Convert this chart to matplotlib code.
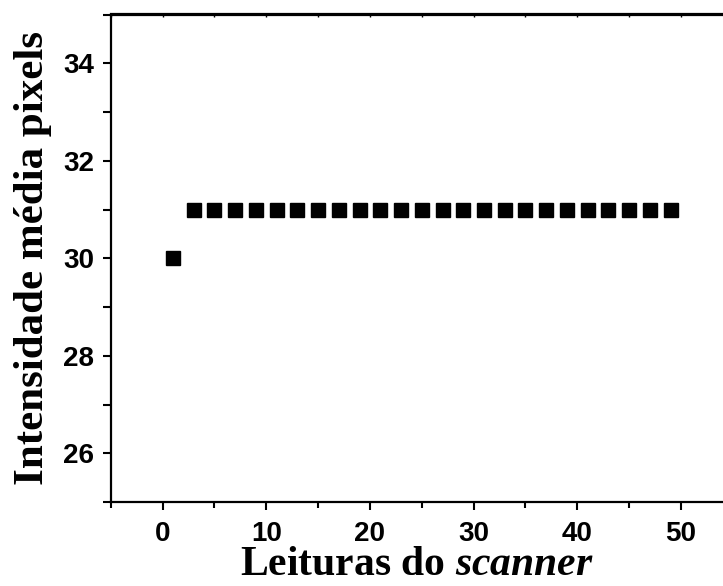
import matplotlib.pyplot as plt
from matplotlib.ticker import MultipleLocator

# readings of the scanner
leituras = [1, 3, 5, 7, 9, 11, 13, 15, 17, 19, 21, 23, 25,
            27, 29, 31, 33, 35, 37, 39, 41, 43, 45, 47, 49]
intensidade = [30, 31, 31, 31, 31, 31, 31, 31, 31, 31, 31, 31, 31,
               31, 31, 31, 31, 31, 31, 31, 31, 31, 31, 31, 31]

plt.rcParams["mathtext.fontset"] = "custom"
plt.rcParams["mathtext.rm"] = "Liberation Serif:bold"
plt.rcParams["mathtext.bf"] = "Liberation Serif:bold"
plt.rcParams["mathtext.it"] = "Liberation Serif:italic:bold"
plt.rcParams["mathtext.bfit"] = "Liberation Serif:italic:bold"

fig = plt.figure(figsize=(7.23, 5.86), dpi=100)
ax = fig.add_axes([110.7 / 723, 1 - 502 / 586, (723 - 110.7) / 723, (502 - 14.5) / 586])

ax.plot(leituras, intensidade, linestyle="none", marker="s", markersize=10,
        color="black")

ax.set_xlim(-5, 54.05)
ax.set_ylim(25, 35)
ax.xaxis.set_major_locator(MultipleLocator(10))
ax.xaxis.set_minor_locator(MultipleLocator(5))
ax.yaxis.set_minor_locator(MultipleLocator(1))
ax.set_yticks([26, 28, 30, 32, 34])

for s in ax.spines.values():
    s.set_linewidth(1.6)
ax.spines["right"].set_visible(False)

ax.tick_params(which="major", direction="out", length=6, width=1.5,
               top=False, right=False, pad=6)
ax.tick_params(axis="x", which="major", pad=8)
ax.tick_params(which="minor", direction="out", length=4, width=1.5,
               top=False, right=False)
ax.tick_params(axis="y", which="minor", length=6)

# small inward ticks on the top spine
sec = ax.secondary_xaxis("top")
sec.xaxis.set_major_locator(MultipleLocator(5))
sec.tick_params(direction="in", length=2, width=1, labeltop=False)
sec.spines["top"].set_linewidth(1.6)

for lab in ax.get_xticklabels() + ax.get_yticklabels():
    lab.set_fontfamily("Liberation Sans")
    lab.set_fontweight("bold")
    lab.set_fontsize(20)

ax.set_xlabel("Leituras do $\\mathit{scanner}$", fontsize=30,
              family="Liberation Serif", fontweight="bold", labelpad=-1)
ax.set_ylabel("Intensidade média pixels", fontsize=31,
              family="Liberation Serif", fontweight="bold", labelpad=8)

fig.savefig("out.png", dpi=100)
